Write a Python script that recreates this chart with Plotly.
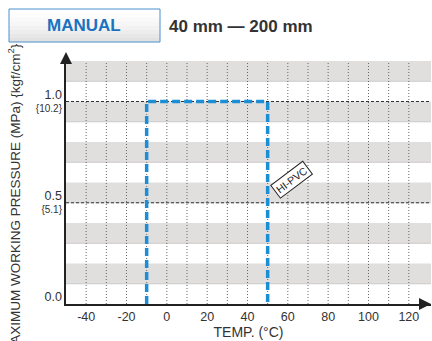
import plotly.graph_objects as go

# HI-PVC limit line (temperature degC vs max working pressure MPa)
temp_limits = [-10, -10, 50, 50]
pressure_limits = [0.0, 1.0, 1.0, 0.0]

x_tick_vals = [-40, -20, 0, 20, 40, 60, 80, 100, 120]
x_tick_text = ["-40", "-20", "0", "20", "40", "60", "80", "100", "120"]
x_grid_vals = [-40, -30, -20, -10, 0, 10, 20, 30, 40, 50, 60, 70, 80, 90, 100, 110, 120]
y_tick_vals = [0.0, 0.5, 1.0]
y_tick_mpa = ["0.0", "0.5", "1.0"]
y_tick_kgf = ["", "{5.1}", "{10.2}"]
ref_pressures = [0.5, 1.0]
band_lo = [0.1, 0.3, 0.5, 0.7, 0.9, 1.1]
band_hi = [0.2, 0.4, 0.6, 0.8, 1.0, 1.2]

X_RANGE = [-50, 131]
Y_RANGE = [0, 1.2]
W, H = 432, 341
ML, MR, MT, MB = 66, 1, 61, 37
PW, PH = W - ML - MR, H - MT - MB
FONT = "Liberation Sans, Arial, sans-serif"


def px(x):
    return (x - ML) / PW


def py(y):
    return (H - MB - y) / PH


fig = go.Figure()

fig.add_trace(go.Scatter(
    x=temp_limits, y=pressure_limits, mode="lines",
    line=dict(color="#1b8ed6", width=3.5, dash="8px,4px"),
    hoverinfo="skip", showlegend=False,
))

shapes = []
for lo, hi in zip(band_lo, band_hi):
    shapes.append(dict(type="rect", xref="x", yref="y", x0=X_RANGE[0], x1=X_RANGE[1],
                       y0=lo, y1=hi, fillcolor="#e1dfde", line_width=0, layer="below"))
    shapes.append(dict(type="line", xref="x", yref="y", x0=X_RANGE[0], x1=X_RANGE[1],
                       y0=lo, y1=lo, line=dict(color="#cbcaca", width=1), layer="below"))
for g in x_grid_vals:
    shapes.append(dict(type="line", xref="x", yref="y", x0=g, x1=g, y0=0, y1=Y_RANGE[1],
                       line=dict(color="#666666", width=1, dash="1px,2px"), layer="below"))
for p in ref_pressures:
    shapes.append(dict(type="line", xref="x", yref="y", x0=X_RANGE[0], x1=X_RANGE[1],
                       y0=p, y1=p, line=dict(color="#333333", width=1, dash="3px,2px"),
                       layer="below"))

# header button with soft gradient
bx0, bx1, by0, by1 = 9, 160, 9, 42
steps = 8
for i in range(steps):
    c = int(255 - (255 - 226) * (i / (steps - 1)) ** 1.5)
    shapes.append(dict(type="rect", xref="paper", yref="paper",
                       x0=px(bx0), x1=px(bx1),
                       y0=py(by0 + (by1 - by0) * (i + 1) / steps),
                       y1=py(by0 + (by1 - by0) * i / steps),
                       fillcolor=f"rgb({c},{c},{c})", line_width=0))
shapes.append(dict(type="rect", xref="paper", yref="paper",
                   x0=px(bx0), x1=px(bx1), y0=py(by1), y1=py(by0),
                   line=dict(color="#4a90cf", width=1)))

annotations = [
    dict(text="MANUAL", xref="paper", yref="paper", x=px(84), y=py(25.5),
         xanchor="center", yanchor="middle", showarrow=False,
         font=dict(family=FONT, size=17, color="#1a72c0", weight="bold")),
    dict(text="40 mm \u2014 200 mm", xref="paper", yref="paper", x=px(167), y=py(26),
         xanchor="left", yanchor="middle", showarrow=False,
         font=dict(family=FONT, size=17, color="#333333", weight="bold")),
    dict(text="MAXIMUM WORKING PRESSURE (MPa) {kgf/cm<sup>2</sup>}", xref="paper", yref="paper",
         x=px(14), y=py(199), xanchor="center", yanchor="middle", textangle=-90,
         showarrow=False, font=dict(family=FONT, size=13.5, color="#333333")),
    dict(text="HI-PVC", xref="x", yref="y", x=62, y=0.615, xanchor="center", yanchor="middle",
         textangle=-37, showarrow=False,
         bgcolor="white", bordercolor="#222222", borderwidth=1, borderpad=1.5,
         font=dict(family=FONT, size=10.5, color="#222222")),
    # axis arrowheads
    dict(text="", xref="paper", yref="paper", x=0, y=py(52), ax=0, ay=12,
         showarrow=True, arrowhead=2, arrowsize=1.2, arrowwidth=2, arrowcolor="#222222"),
    dict(text="", xref="paper", yref="paper", x=px(432), y=0, ax=-12, ay=0,
         showarrow=True, arrowhead=2, arrowsize=1.2, arrowwidth=2, arrowcolor="#222222"),
]

y_text = []
for m, k in zip(y_tick_mpa, y_tick_kgf):
    y_text.append(f"<span style='font-size:12.5px'>{m}</span><br>{k if k else ' '}")

fig.update_layout(
    width=W, height=H,
    margin=dict(l=ML, r=MR, t=MT, b=MB, autoexpand=False),
    paper_bgcolor="white", plot_bgcolor="white",
    font=dict(family=FONT, size=12.5, color="#333333"),
    showlegend=False,
    shapes=shapes,
    annotations=annotations,
    xaxis=dict(
        range=X_RANGE, showgrid=False, zeroline=False,
        showline=True, linecolor="#222222", linewidth=2,
        tickvals=x_tick_vals, ticktext=x_tick_text, ticks="", automargin=False,
        title=dict(text="TEMP. (\u00b0C)", font=dict(size=14, color="#333333"), standoff=4),
    ),
    yaxis=dict(
        range=Y_RANGE, showgrid=False, zeroline=False,
        showline=True, linecolor="#222222", linewidth=2, automargin=False,
        tickvals=y_tick_vals, ticktext=y_text, ticks="", tickfont=dict(size=10),
    ),
)

fig.write_html("out.html", config={"displayModeBar": False},
               post_script="document.body.style.margin='0';")
